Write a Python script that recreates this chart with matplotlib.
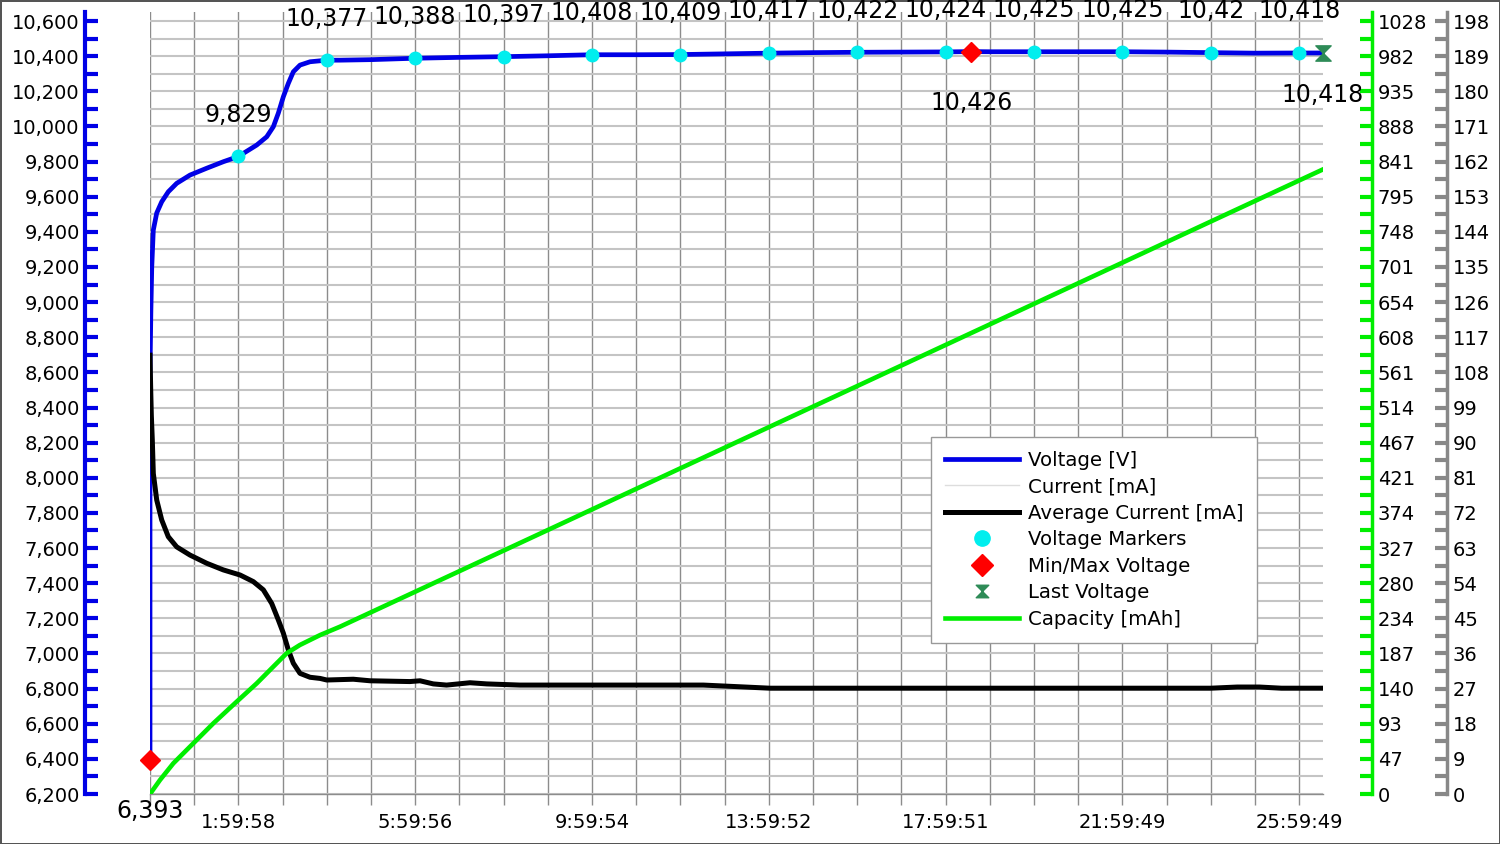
import numpy as np
import matplotlib
matplotlib.use("Agg")
import matplotlib.pyplot as plt
from matplotlib.lines import Line2D
from matplotlib.path import Path

# Voltage [V] over time [h]
volt_t = [0, 0, 0.02, 0.04, 0.075, 0.152, 0.265, 0.414, 0.604, 0.905, 1.283, 1.659, 2.0,
          2.415, 2.641, 2.79, 2.903, 3.017, 3.13, 3.243, 3.394, 3.621, 4.0, 4.3, 5.0, 6.0,
          7.0, 8.0, 9.0, 10.0, 11.0, 12.0, 13.0, 14.0, 15.0, 16.0, 17.0, 18.0, 18.58, 19.0,
          20.0, 21.0, 22.0, 23.0, 24.0, 25.0, 26.0, 26.54]
volt_v = [6.393, 8.6, 8.95, 9.2, 9.41, 9.507, 9.571, 9.628, 9.676, 9.723, 9.762, 9.799,
          9.829, 9.894, 9.941, 9.998, 10.075, 10.169, 10.245, 10.311, 10.349, 10.368,
          10.377, 10.377, 10.380, 10.388, 10.393, 10.397, 10.402, 10.408, 10.408, 10.409,
          10.413, 10.417, 10.420, 10.422, 10.423, 10.424, 10.426, 10.425, 10.425, 10.425,
          10.425, 10.423, 10.420, 10.417, 10.418, 10.418]

# markers every 2 hours
mark_t = [2, 4, 6, 8, 10, 12, 14, 16, 18, 20, 22, 24, 26]
mark_v = [9.829, 10.377, 10.388, 10.397, 10.408, 10.409, 10.417, 10.422, 10.424, 10.425,
          10.425, 10.420, 10.418]
min_t, min_v = 0.0, 6.393
max_t, max_v = 18.58, 10.426
last_t, last_v = 26.54, 10.418

# Average current [mA]
cur_t = [0, 0.015, 0.03, 0.052, 0.075, 0.152, 0.265, 0.414, 0.604, 0.905, 1.283, 1.659,
         2.037, 2.338, 2.564, 2.754, 2.903, 3.017, 3.13, 3.243, 3.394, 3.621, 3.85, 4.0,
         4.6, 4.98, 5.88, 6.11, 6.41, 6.71, 7.24, 7.62, 8.37, 12.52, 13.28, 14.03, 24.0,
         24.6, 25.1, 25.6, 26.54]
cur_v = [112.4, 104.0, 97.0, 90.7, 82.1, 75.3, 70.2, 65.9, 63.3, 61.2, 59.1, 57.4, 56.1,
         54.4, 52.3, 48.8, 44.6, 41.2, 36.9, 33.5, 30.9, 29.9, 29.6, 29.2, 29.4, 29.0,
         28.8, 29.0, 28.2, 27.9, 28.5, 28.2, 27.9, 27.9, 27.5, 27.1, 27.1, 27.4, 27.4,
         27.1, 27.1]

# Capacity [mAh]
cap_t = [0, 0.226, 0.528, 0.98, 1.433, 1.961, 2.415, 2.79, 3.09, 3.39, 3.85, 4.3, 8.0,
         12.0, 16.0, 20.0, 24.0, 26.54]
cap_v = [0, 18.6, 40.8, 67.4, 94.0, 122.8, 147.2, 169.4, 187.1, 198.2, 211.5, 222.6,
         323.8, 433.3, 542.7, 652.1, 761.6, 831.0]

# axis ticks
x_label_hours = [2, 6, 10, 14, 18, 22, 26]
x_labels = ['1:59:58', '5:59:56', '9:59:54', '13:59:52', '17:59:51', '21:59:49', '25:59:49']
cap_labels = ['0', '47', '93', '140', '187', '234', '280', '327', '374', '421', '467', '514',
              '561', '608', '654', '701', '748', '795', '841', '888', '935', '982', '1028']
cur_labels = [str(9 * i) for i in range(23)]

BLUE = '#0000e6'
GREEN = '#00ee00'
GRAY_AX = '#888888'


def vfmt(v):
    # 10.420 -> "10,42" like the original labels
    s = f"{v:.3f}".rstrip('0').rstrip('.')
    return s.replace('.', ',')


fig = plt.figure(figsize=(15, 8.44), dpi=100, linewidth=2, edgecolor='#555555')
ax = fig.add_axes([0.1, 0.05924, 0.782, 0.92654])

t_end = 26.54
ax.set_xlim(0, t_end)
v_lo, v_hi = 6.2, 10.6
pad_frac = 9 / 773
ax.set_ylim(v_lo, v_hi + (v_hi - v_lo) * pad_frac)

ax_cur = ax.twinx()
ax_cap = ax.twinx()
cap_max = 1028.4
cur_max = 198
ax_cap.set_ylim(0, cap_max * (1 + pad_frac))
ax_cur.set_ylim(0, cur_max * (1 + pad_frac))

# ticks and grid
ax.set_xticks(np.arange(0, 27, 1))
ax.set_xticklabels([x_labels[x_label_hours.index(h)] if h in x_label_hours else ''
                    for h in range(27)])
v_ticks = np.arange(6.2, 10.61, 0.2)
ax.set_yticks(v_ticks)
ax.set_yticks(np.arange(6.3, 10.6, 0.2), minor=True)
ax.set_yticklabels([f"{v:.3f}".replace('.', ',') for v in v_ticks])
ax.xaxis.grid(True, color='#8c8c8c', lw=1)
ax.yaxis.grid(True, which='both', color='#c4c4c4', lw=1.5)
ax.set_axisbelow(True)

for s in ['top', 'right']:
    ax.spines[s].set_visible(False)
ax.spines['bottom'].set_color('#8c8c8c')
ax.spines['bottom'].set_linewidth(1)
ax.spines['left'].set_position(('outward', 46.6))
ax.spines['left'].set_color(BLUE)
ax.spines['left'].set_linewidth(3)
ax.tick_params(axis='y', which='both', direction='in', length=9, width=3, color=BLUE,
               labelsize=14, pad=4)
ax.tick_params(axis='x', which='both', direction='out', length=8, width=1, color='#8c8c8c',
               labelsize=14, pad=6)

for a in (ax_cur, ax_cap):
    for s in ['top', 'left', 'bottom']:
        a.spines[s].set_visible(False)
    a.patch.set_visible(False)

ax_cap.spines['right'].set_position(('outward', 35.3))
ax_cap.spines['right'].set_color(GREEN)
ax_cap.spines['right'].set_linewidth(2.5)
ax_cap.set_yticks(np.linspace(0, cap_max, 23))
ax_cap.set_yticklabels(cap_labels)
ax_cap.set_yticks(np.linspace(0, cap_max, 45)[1::2], minor=True)
ax_cap.tick_params(axis='y', which='both', direction='in', length=9, width=3, color=GREEN,
                   labelsize=14, pad=4)

ax_cur.spines['right'].set_position(('outward', 89.3))
ax_cur.spines['right'].set_color(GRAY_AX)
ax_cur.spines['right'].set_linewidth(2.5)
ax_cur.set_yticks(np.linspace(0, cur_max, 23))
ax_cur.set_yticklabels(cur_labels)
ax_cur.set_yticks(np.linspace(0, cur_max, 45)[1::2], minor=True)
ax_cur.tick_params(axis='y', which='both', direction='in', length=9, width=3, color=GRAY_AX,
                   labelsize=14, pad=4)

# data lines
ax.plot(volt_t, volt_v, color=BLUE, lw=3.4, zorder=3, solid_joinstyle='round')
ax_cur.plot(cur_t, cur_v, color='#dddddd', lw=1, zorder=2)
ax_cur.plot(cur_t, cur_v, color='black', lw=3.6, zorder=3, solid_joinstyle='round')
ax_cap.plot(cap_t, cap_v, color=GREEN, lw=3.3, zorder=3, solid_joinstyle='round')

hourglass = Path([(-1, 1), (1, 1), (-1, -1), (1, -1), (-1, 1)],
                 [Path.MOVETO, Path.LINETO, Path.LINETO, Path.LINETO, Path.CLOSEPOLY])

# markers on a top overlay so they sit above every line
ax_top = ax.twinx()
ax_top.set_ylim(ax.get_ylim())
ax_top.axis('off')
ax_top.plot(mark_t, mark_v, 'o', color='#00eeee', ms=9, zorder=5, clip_on=False)
ax_top.plot([min_t, max_t], [min_v, max_v], 'D', color='red', ms=10, zorder=6, clip_on=False)
ax_top.plot([last_t], [last_v], marker=hourglass, color='#2e8b57', ms=11, ls='none',
            zorder=6, clip_on=False)

for t, v in zip(mark_t, mark_v):
    ax_top.annotate(vfmt(v), (t, v), xytext=(0, 30), textcoords='offset points',
                    ha='center', va='center', fontsize=17, annotation_clip=False)
ax_top.annotate(vfmt(min_v), (min_t, min_v), xytext=(0, -37), textcoords='offset points',
                ha='center', va='center', fontsize=17, annotation_clip=False)
ax_top.annotate(vfmt(max_v), (max_t, max_v), xytext=(0, -37), textcoords='offset points',
                ha='center', va='center', fontsize=17, annotation_clip=False)
ax_top.annotate(vfmt(last_v), (last_t, last_v), xytext=(0, -30), textcoords='offset points',
                ha='center', va='center', fontsize=17, annotation_clip=False)

handles = [
    Line2D([], [], color=BLUE, lw=3.4),
    Line2D([], [], color='#dddddd', lw=1),
    Line2D([], [], color='black', lw=3.6),
    Line2D([], [], color='#00eeee', marker='o', ls='none', ms=11),
    Line2D([], [], color='red', marker='D', ls='none', ms=11),
    Line2D([], [], color='#2e8b57', marker=hourglass, ls='none', ms=9),
    Line2D([], [], color=GREEN, lw=3.3),
]
labels = ['Voltage [V]', 'Current [mA]', 'Average Current [mA]', 'Voltage Markers',
          'Min/Max Voltage', 'Last Voltage', 'Capacity [mAh]']
leg = ax_top.legend(handles, labels, loc='upper left', bbox_to_anchor=(0.6658, 0.4565),
                    fontsize=14.2, handlelength=3.75, handletextpad=0.45, labelspacing=0.38,
                    borderpad=0.7, borderaxespad=0, fancybox=False, framealpha=1,
                    edgecolor='#999999')
leg.get_frame().set_linewidth(1)
leg.set_zorder(10)

fig.savefig('out.png', dpi=100)
